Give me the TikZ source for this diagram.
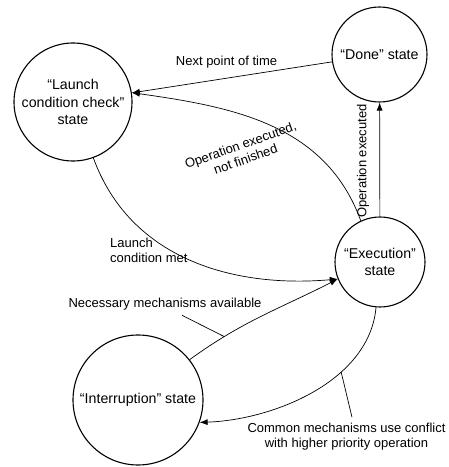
\documentclass[tikz,border=0pt]{standalone}
\usepackage{fontspec}
\setmainfont{Liberation Sans}
\usetikzlibrary{arrows.meta,positioning}
\tikzstyle{state} = [circle, draw, line width=1.1pt, align=center, inner sep=0pt, font=\fontsize{14.2}{17.5}\selectfont]
\tikzstyle{tag} = [inner sep=1pt, font=\fontsize{13}{15}\selectfont]
\tikzstyle{line} = [draw, line width=0.7pt, -{Latex[length=8pt,width=6pt]}]
\tikzstyle{pointer} = [draw, line width=0.7pt]

\begin{document}
\begin{tikzpicture}[x=1pt,y=1pt]
	\useasboundingbox (0,0) rectangle (449,467);
	%Place states
	\node [state, minimum size=118pt] (Launch) at (73,365) {“Launch\\condition check”\\state};
	\node [state, minimum size=95pt] (Done) at (379.5,412.5) {“Done” state};
	\node [state, minimum size=90pt] (Execution) at (380,205) {“Execution”\\state};
	\node [state, minimum size=130pt] (Interruption) at (138,67) {“Interruption” state};

	%Place labels
	\node [tag] (NextTime) at (226.5,405) {Next point of time};
	\node [tag, align=center, rotate=19.5] (NotFinished) at (243,315) {Operation executed,\\not finished};
	\node [tag, rotate=90] (Executed) at (363,306) {Operation executed};
	\node [tag, align=left, anchor=west] (ConditionMet) at (109,217) {Launch\\condition met};
	\node [tag] (Available) at (165,163) {Necessary mechanisms available};
	\node [tag, align=center] (Conflict) at (346.5,30) {Common mechanisms use conflict\\with higher priority operation};

	\path [line] (Done) -- (Launch);
	\path [line] (Execution) -- (Done);
	\path [line] (Execution.115) to[out=110, in=-8] (Launch.9);
	\path [line] (Launch) to[out=-70, in=185] (Execution.202);
	\path [line] (Interruption.38) to[out=36, in=207] coordinate[pos=0.23] (AvailPt) (Execution.202);
	\path [line] (Execution) to[out=-95, in=2, looseness=0.9] coordinate[pos=0.35] (ConflictPt) (Interruption.-20);

	%\path [pointer] (Available) -- (AvailPt);
	\path [pointer] ([xshift=17pt,yshift=-4pt]Available.south) -- (AvailPt);
	\path [pointer] ([xshift=5.5pt,yshift=5pt]Conflict.north) -- (ConflictPt);

\end{tikzpicture}
\end{document}
